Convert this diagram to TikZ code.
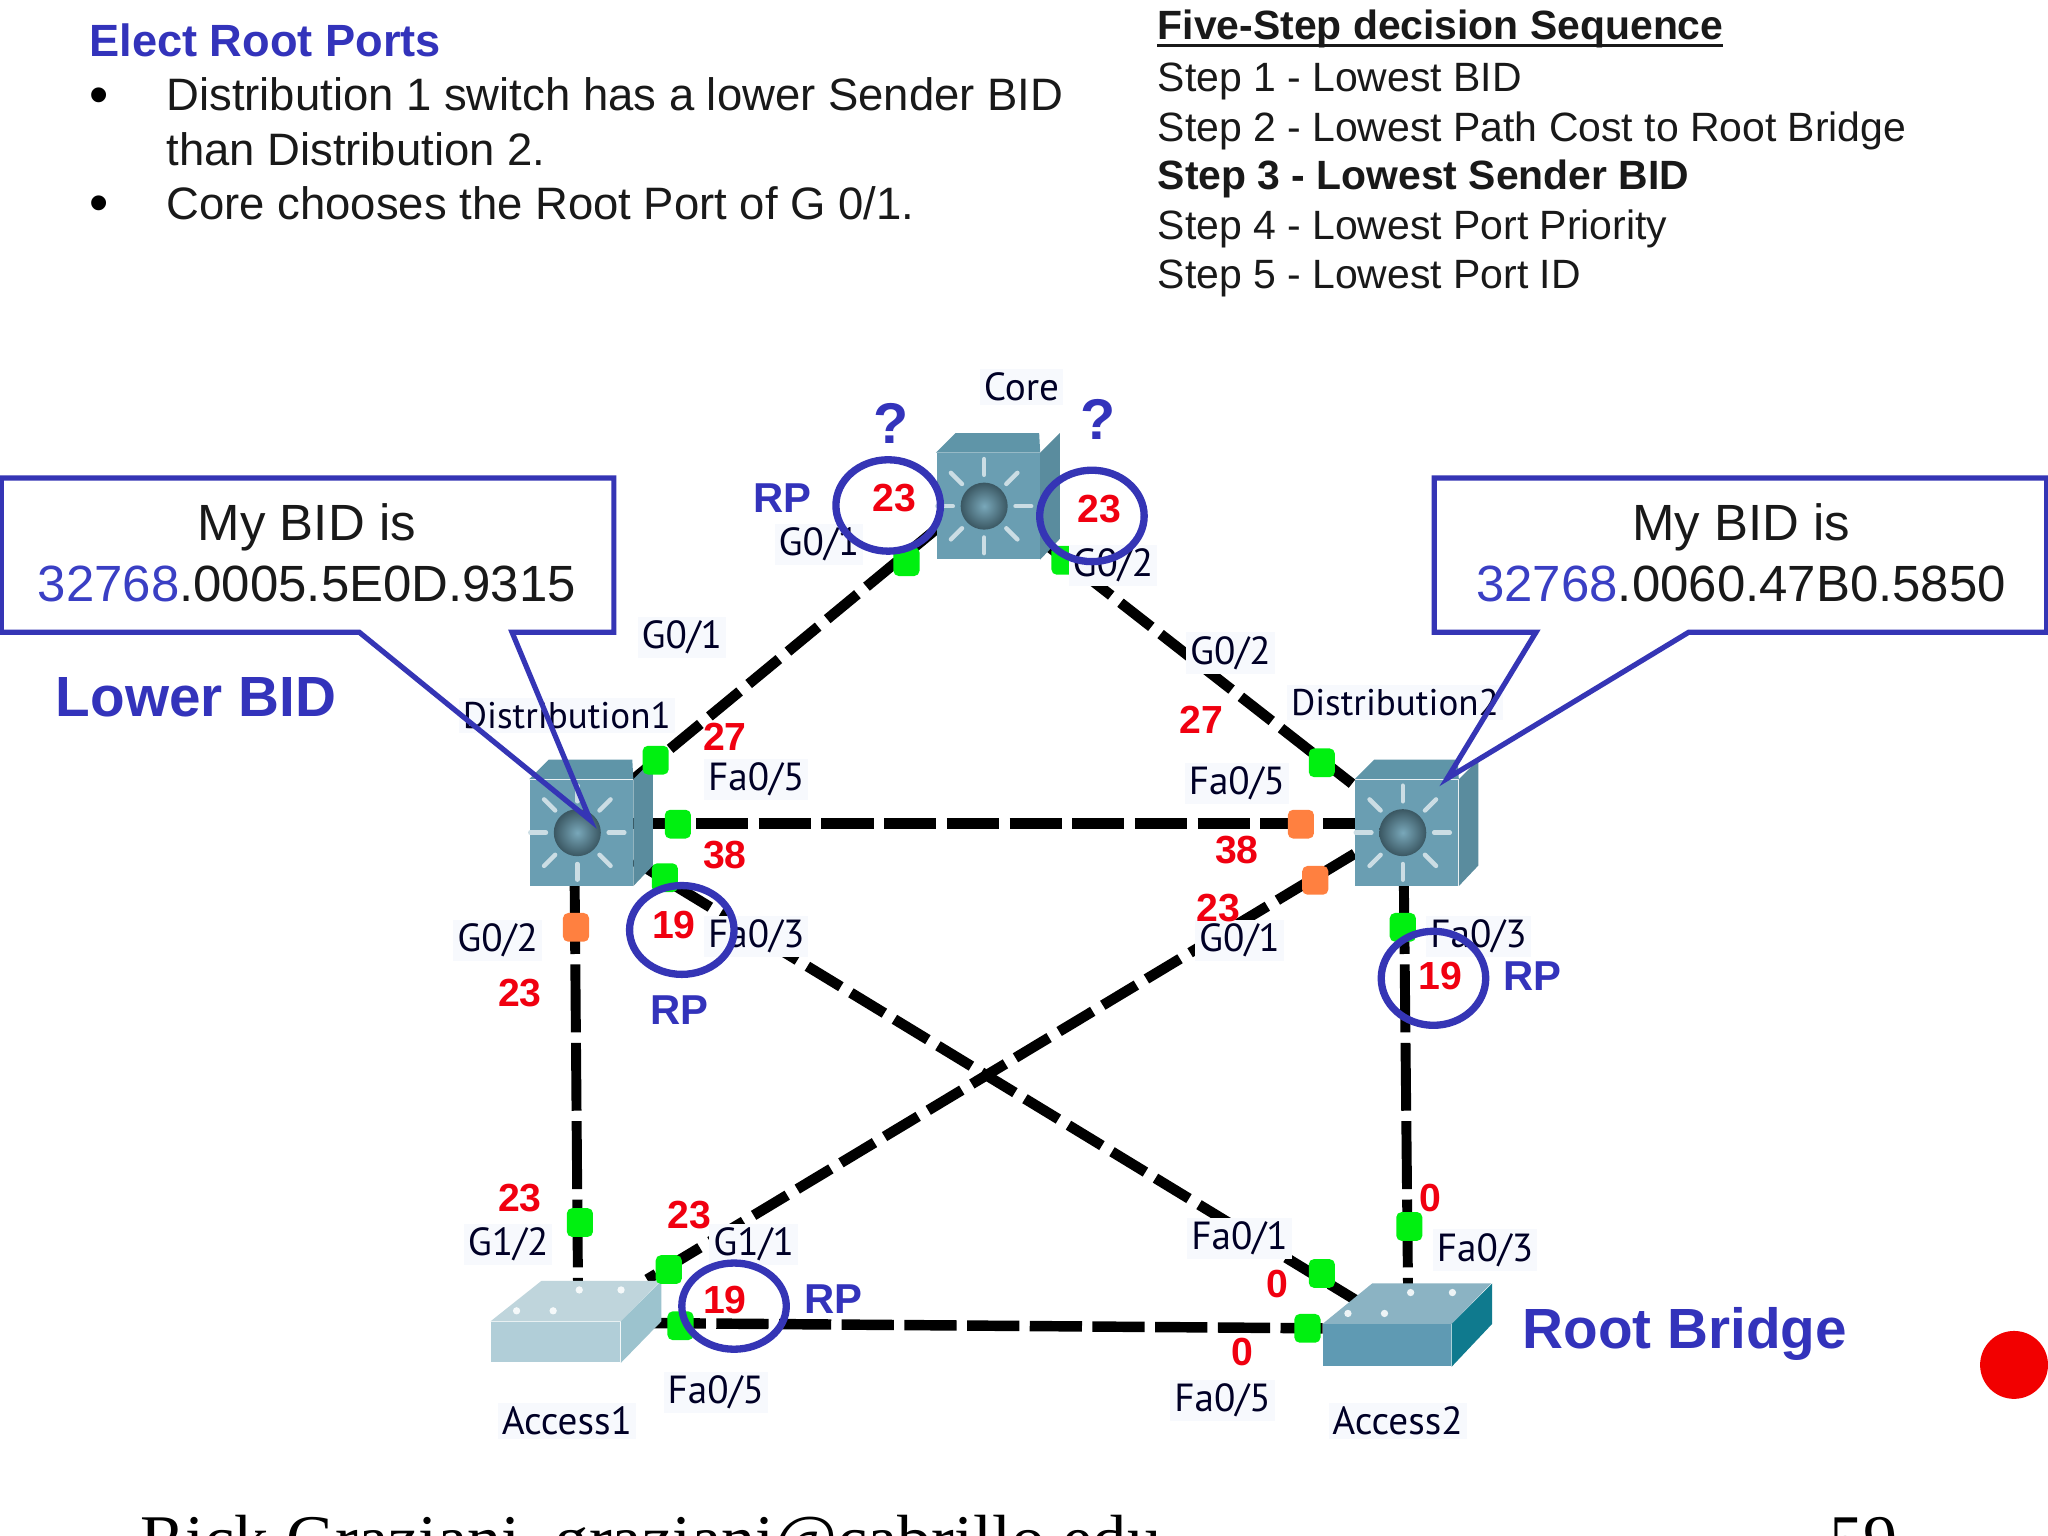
\documentclass[tikz,border=0pt]{standalone}
\usepackage{fontspec}
\setmainfont{Liberation Sans}
\newfontfamily\labelfont{PT Sans}
\newfontfamily\footfont{Liberation Serif}
\usetikzlibrary{backgrounds,calc}
\definecolor{bluetxt}{HTML}{3A3FC4}
\definecolor{bluehead}{HTML}{3333BB}
\definecolor{stroke}{HTML}{3535B5}
\definecolor{redtxt}{HTML}{F00010}
\definecolor{portg}{HTML}{00F010}
\definecolor{porto}{HTML}{FF8040}
\definecolor{halo}{HTML}{F7F9FD}
\definecolor{swface}{HTML}{6A9EB2}
\definecolor{swtop}{HTML}{5F95A8}
\definecolor{swside}{HTML}{5A8C9E}
\definecolor{aface}{HTML}{B1CED8}
\definecolor{atop}{HTML}{BFD5DC}
\definecolor{aside}{HTML}{9CC3CE}
\definecolor{bface}{HTML}{5F9AB3}
\definecolor{btop}{HTML}{8BB3C3}
\definecolor{bside}{HTML}{0F7A8E}
\tikzset{
  x=0.5pt,y=-0.5pt,
  bodytext/.style={anchor=west,inner sep=0pt,font=\fontsize{17.4}{20}\selectfont,text=black!90},
  bullettext/.style={anchor=west,inner sep=0pt,font=\fontsize{21}{24}\selectfont,text=black},
  headtext/.style={bodytext,font=\fontsize{17.3}{20}\selectfont\bfseries,text=bluehead},
  blackhead/.style={bodytext,font=\fontsize{15.65}{19}\selectfont\bfseries},
  steptext/.style={bodytext,font=\fontsize{15.67}{19}\selectfont},
  bid/.style={inner sep=0pt,font=\fontsize{19.5}{24}\selectfont,text=black!90},
  bigtext/.style={inner sep=0pt,font=\fontsize{21.7}{26}\selectfont\bfseries,text=bluehead},
  rptext/.style={inner sep=0pt,font=\fontsize{16}{19}\selectfont\bfseries,text=bluehead},
  qtext/.style={inner sep=0pt,font=\fontsize{22}{26}\selectfont\bfseries,text=bluehead},
  cost/.style={inner sep=0pt,font=\fontsize{15}{18}\selectfont\bfseries,text=redtxt},
  plabel/.style={inner sep=1.5pt,fill=halo,font=\labelfont\fontsize{15}{18}\selectfont,text=black!85!blue},
  dlabel/.style={plabel,font=\labelfont\fontsize{14.2}{18}\selectfont},
  dlink/.style={line width=4pt,draw=black,dash pattern=on 15pt off 4.5pt},
  hlink/.style={line width=4pt,draw=black,dash pattern=on 20pt off 4pt},
  vlink/.style={line width=3.8pt,draw=black,dash pattern=on 26pt off 4pt},
  portG/.style={fill=portg,rounded corners=2pt,minimum width=10pt,minimum height=11pt,inner sep=0pt},
  portO/.style={fill=porto,rounded corners=2pt,minimum width=10pt,minimum height=11pt,inner sep=0pt},
  ring/.style={draw=stroke,line width=2.8pt},
  balloon/.style={draw=stroke,line width=2pt,line join=miter},
  swfront/.style={minimum width=39.5pt,minimum height=40.5pt,inner sep=0pt,fill=swface},
  afrontA/.style={minimum width=49.5pt,minimum height=15.5pt,inner sep=0pt,fill=aface},
  afrontB/.style={minimum width=49pt,minimum height=16pt,inner sep=0pt,fill=bface},
}
\newcommand{\mlprism}[1]{%
  \fill[swtop] (#1.north west) -- ++(15,-15) -- ++(64,0) -- (#1.north east) -- cycle;
  \fill[swside] (#1.north east) -- ++(15,-15) -- ++(0,81) -- (#1.south east) -- cycle;
  \foreach \a in {0,45,...,315}{
    \draw[white!65!swface,line width=1.7pt,line cap=round]
      ($(#1.center)+(-3,0)+(\a:12pt)$) -- ($(#1.center)+(-3,0)+(\a:18pt)$);
  }
  \shade[inner color=swface!90!white,outer color=swface!55!black] ($(#1.center)+(-3,0)$) circle[radius=9pt];
}
\newcommand{\topdots}[2]{%
  \foreach \dx/\dy in {-30/-8,-2/-8,18/-24,50/-24}{
    \fill[white!85!#2] ($(#1.north)+(\dx,\dy)$) circle[radius=1.4pt];
  }
}
\begin{document}
\begin{tikzpicture}
\clip (0,0) rectangle (1568,1176);

% header text
\node[headtext] (h1) at (68,31) {Elect Root Ports};
\node[bullettext] (b1) at (68,77) {\textbullet};
\node[bullettext] (b2) at (68,160) {\textbullet};
\node[bodytext] (t1) at (127,72) {Distribution 1 switch has a lower Sender BID};
\node[bodytext] (t2) at (127,114) {than Distribution 2.};
\node[bodytext] (t3) at (127,156) {Core chooses the Root Port of G 0/1.};
\node[blackhead] (s0) at (886,22) {Five-Step decision Sequence};
\draw[line width=1.3pt,black!90] ($(s0.south west)+(0,-2)$) -- ($(s0.south east)+(-1,-2)$);
\node[steptext] (s1) at (886,62) {Step 1 - Lowest BID};
\node[steptext] (s2) at (886,100) {Step 2 - Lowest Path Cost to Root Bridge};
\node[blackhead] (s3) at (886,137) {Step 3 - Lowest Sender BID};
\node[steptext] (s4) at (886,175) {Step 4 - Lowest Port Priority};
\node[steptext] (s5) at (886,213) {Step 5 - Lowest Port ID};

% switches (front faces)
\node[swfront] (core) at (756.5,387.5) {};
\node[swfront] (d1) at (445,637.5) {};
\node[swfront] (d2) at (1077,637.5) {};
\node[afrontA] (a1) at (425.5,1027.5) {};
\node[afrontB] (a2) at (1062,1030) {};
\mlprism{core}\mlprism{d1}\mlprism{d2}
\fill[atop] (a1.north west) -- ++(39,-31) -- ++(91,0) -- (a1.north east) -- cycle;
\fill[aside] (a1.north east) -- ++(31,-31) -- ++(0,31) -- (a1.south east) -- cycle;
\fill[btop] (a2.north west) -- ++(38,-31) -- ++(91,0) -- (a2.north east) -- cycle;
\fill[bside] (a2.north east) -- ++(31,-31) -- ++(0,31) -- (a2.south east) -- cycle;
\topdots{a1}{atop}\topdots{a2}{btop}

% connectors
\begin{scope}[on background layer]
\fill[white] (0,0) rectangle (1568,1176);
\draw[dlink] (core.204) -- (d1.north east);
\draw[dlink] (core.-33) -- (d2.138);
\draw[hlink] (d1.10) -- (d2.170);
\draw[dlink] (d1.-28) -- ($(a2.north)+(-22,-17)$);
\draw[dlink] (d2.202) -- ($(a1.north east)+(20,-32)$);
\draw[vlink] (d1.-97) -- ($(a1.north)+(17,-31)$);
\draw[vlink] (d2.-93) -- ($(a2.north)+(16,-29)$);
\draw[hlink] ($(a1.east)+(25,-14.5)$) -- ($(a2.west)+(0,-13)$);
\end{scope}

% ports
\foreach \x/\y [count=\i] in {694/430,815/429,502/582,519/631,509/672,1012/584,1074/710,444/936,512/972,521/1015,1012/975,1001/1017,1079/939}
  \node[portG] (pg\i) at (\x,\y) {};
\foreach \x/\y [count=\i] in {441/710,996/631,1007/674}
  \node[portO] (po\i) at (\x,\y) {};

% device and interface labels
\foreach \x/\y/\t [count=\i] in {782/296/Core,627/417/G0\slash 1,852/433/G0\slash 2,522/488/G0\slash 1,942/500/G0\slash 2,579/597/Fa0\slash 5,947/600/Fa0\slash 5,381/720/G0\slash 2,579/717/Fa0\slash 3,949/720/G0\slash 1,1132/717/Fa0\slash 3,389/953/G1\slash 2,577/953/G1\slash 1,949/948/Fa0\slash 1,1137/957/Fa0\slash 3,548/1066/Fa0\slash 5,936/1072/Fa0\slash 5,434/1088/Access1,1070/1088/Access2}
  \node[plabel] (l\i) at (\x,\y) {\t};
\node[dlabel] (dn1) at (434,548) {Distribution1};
\node[dlabel] (dn2) at (1068,538) {Distribution2};

% costs
\foreach \x/\y/\t [count=\i] in {685/381/23,842/390/23,555/564/27,920/551/27,555/655/38,947/651/38,516/708/19,933/695/23,1103/747/19,398/760/23,398/917/23,528/930/23,1095/917/0,555/995/19,978/983/0,951/1035/0}
  \node[cost] (c\i) at (\x,\y) {\t};

% root port rings
\draw[ring] (680,387) ellipse[x radius=40,y radius=35];
\draw[ring] (836,395) ellipse[x radius=40,y radius=35];
\draw[ring] (522,712) ellipse[x radius=40,y radius=34];
\draw[ring] (1097.5,749) ellipse[x radius=40,y radius=36];
\draw[ring] (562,1000) ellipse[x radius=40,y radius=33];

\node[rptext] (r1) at (599,381) {RP};
\node[rptext] (r2) at (520,773) {RP};
\node[rptext] (r3) at (1173,747) {RP};
\node[rptext] (r4) at (638,995) {RP};
\node[qtext] (q1) at (682,324) {?};
\node[qtext] (q2) at (841,321) {?};
\node[bigtext] (lb) at (150,534) {Lower BID};
\node[bigtext] (rb) at (1290,1021) {Root Bridge};

% callouts
\draw[balloon] (1,366) -- (470,366) -- (470,484) -- (392,484) -- (452,628) -- (275,484) -- (1,484) -- cycle;
\draw[balloon] (1098,366) -- (1567,366) -- (1567,484) -- (1293,484) -- (1108,596) -- (1176,484) -- (1098,484) -- cycle;
\node[bid] (m1) at (235,404) {My BID is};
\node[bid] (n1) at (235,447) {\textcolor{bluetxt}{32768}.0005.5E0D.9315};
\node[bid] (m2) at (1333,404) {My BID is};
\node[bid] (n2) at (1333,447) {\textcolor{bluetxt}{32768}.0060.47B0.5850};

% pointer dot and footer
\fill[red!95!black] (1542,1045) circle[radius=13pt];
\node[anchor=base west,inner sep=0pt,font=\footfont\fontsize{26.1}{30}\selectfont] (ft) at (107,1196) {Rick Graziani\ \ graziani@cabrillo.edu};
\node[anchor=base,inner sep=0pt,font=\footfont\fontsize{26.1}{30}\selectfont] (pg) at (1427,1196) {59};
\end{tikzpicture}
\end{document}
